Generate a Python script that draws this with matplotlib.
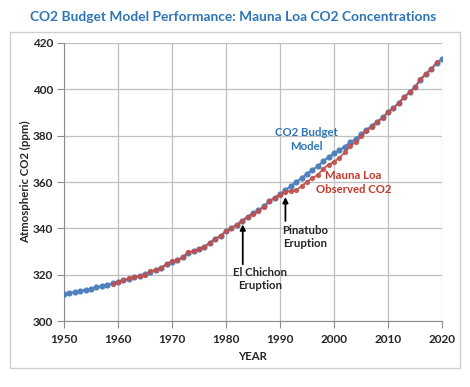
import matplotlib
matplotlib.use("Agg")
from matplotlib import pyplot as plt
from matplotlib.patches import Rectangle

# CO2 budget model, 1950-2020 (ppm)
model_years = list(range(1950, 2021))
model_co2 = [311.6, 312.1, 312.5, 313.0, 313.5, 314.0, 314.5, 315.1, 315.6, 316.2,
             316.9, 317.6, 318.3, 318.9, 319.5, 320.1, 321.2, 322.1, 323.0, 324.4,
             325.5, 326.3, 327.5, 329.4, 330.2, 331.2, 332.1, 333.8, 335.3, 336.8,
             338.7, 340.2, 341.6, 343.3, 345.0, 346.5, 347.8, 349.5, 351.6, 353.2,
             354.7, 356.5, 358.3, 360.0, 361.7, 363.6, 365.3, 366.8, 368.9, 370.8,
             372.4, 373.7, 375.3, 377.1, 378.6, 380.6, 382.5, 384.3, 386.1, 387.9,
             390.1, 392.0, 394.2, 396.6, 398.8, 401.0, 404.0, 406.5, 408.7, 411.2,
             413.1]

# Mauna Loa observed, 1959-2019 (ppm)
obs_years = list(range(1959, 2020))
obs_co2 = [316.0, 316.9, 317.6, 318.4, 319.0, 319.6, 320.0, 321.4, 322.2, 323.0,
           324.6, 325.7, 326.3, 327.5, 329.7, 330.2, 331.1, 332.0, 333.8, 335.4,
           336.8, 338.8, 340.1, 341.5, 343.2, 344.9, 346.4, 347.6, 349.3, 351.7,
           353.2, 354.5, 355.6, 356.2, 356.6, 358.2, 360.1, 361.8, 363.0, 365.8,
           367.5, 368.8, 370.5, 372.8, 375.4, 377.3, 379.7, 381.9, 383.9, 385.8,
           387.6, 390.1, 391.9, 394.1, 396.7, 398.8, 401.0, 404.4, 406.8, 408.7,
           411.7]

x_ticks = [1950, 1960, 1970, 1980, 1990, 2000, 2010, 2020]
y_ticks = [300, 320, 340, 360, 380, 400, 420]

plt.rcParams["font.family"] = ["Lato", "DejaVu Sans"]
plt.rcParams["font.weight"] = "bold"

fig = plt.figure(figsize=(4.7, 3.87), dpi=100)
ax = fig.add_axes([0.1362, 0.1705, 0.8043, 0.7184])

# light frame around the chart area
fig.patches.append(Rectangle((10 / 470, 1 - 368 / 387), 450 / 470, 336 / 387,
                             transform=fig.transFigure, fill=False,
                             edgecolor="#d0d0d0", linewidth=1))

ax.plot(model_years, model_co2, color="#4f81bd", lw=1.4, marker="o", ms=3.4,
        zorder=3)
ax.plot(obs_years, obs_co2, color="#c0504d", lw=1.4, marker="o", ms=2.8,
        alpha=0.85, zorder=4)

ax.set_xlim(1950, 2020)
ax.set_ylim(300, 420)
ax.set_xticks(x_ticks)
ax.set_yticks(y_ticks)
ax.grid(True, color="#bfbfbf", linewidth=0.9)
ax.set_axisbelow(True)
for side in ["top", "right"]:
    ax.spines[side].set_visible(False)
for side in ["left", "bottom"]:
    ax.spines[side].set_color("#8c8c8c")
ax.tick_params(axis="both", which="major", labelsize=8.5, length=5,
               color="#8c8c8c", labelcolor="#262626")
ax.tick_params(axis="x", pad=4)
ax.tick_params(axis="y", pad=3)
for lab in ax.get_xticklabels() + ax.get_yticklabels():
    lab.set_fontweight("bold")

ax.set_xlabel("YEAR", fontsize=8.2, fontweight="bold", color="#262626",
              labelpad=5)
ax.set_ylabel("Atmospheric CO2 (ppm)", fontsize=8.2, fontweight="bold",
              color="#262626", labelpad=1)

fig.text(0.497, 0.955, "CO2 Budget Model Performance: Mauna Loa CO2 Concentrations",
         ha="center", va="center", fontsize=9.9, fontweight="bold",
         color="#2e75b6")

# labels
ax.text(1994.8, 378.3, "CO2 Budget\nModel", ha="center", va="center",
        fontsize=8.2, fontweight="bold", color="#2e75b6", linespacing=1.25)
ax.text(2003.6, 359.8, "Mauna Loa\nObserved CO2", ha="center", va="center",
        fontsize=8.2, fontweight="bold", color="#c0392b", linespacing=1.25)

ax.text(1994.7, 336.3, "Pinatubo\nEruption", ha="center", va="center",
        fontsize=8.2, fontweight="bold", color="#262626", linespacing=1.25)
ax.annotate("", xy=(1991.0, 353.5), xytext=(1991.0, 343.2),
            arrowprops=dict(arrowstyle="-|>", color="black", lw=1.3,
                            shrinkA=0, shrinkB=0, mutation_scale=8))
ax.text(1986.3, 318.0, "El Chichon\nEruption", ha="center", va="center",
        fontsize=8.2, fontweight="bold", color="#262626", linespacing=1.25)
ax.annotate("", xy=(1983.1, 341.7), xytext=(1983.1, 324.5),
            arrowprops=dict(arrowstyle="-|>", color="black", lw=1.3,
                            shrinkA=0, shrinkB=0, mutation_scale=8))

fig.savefig("out.png", dpi=100)
